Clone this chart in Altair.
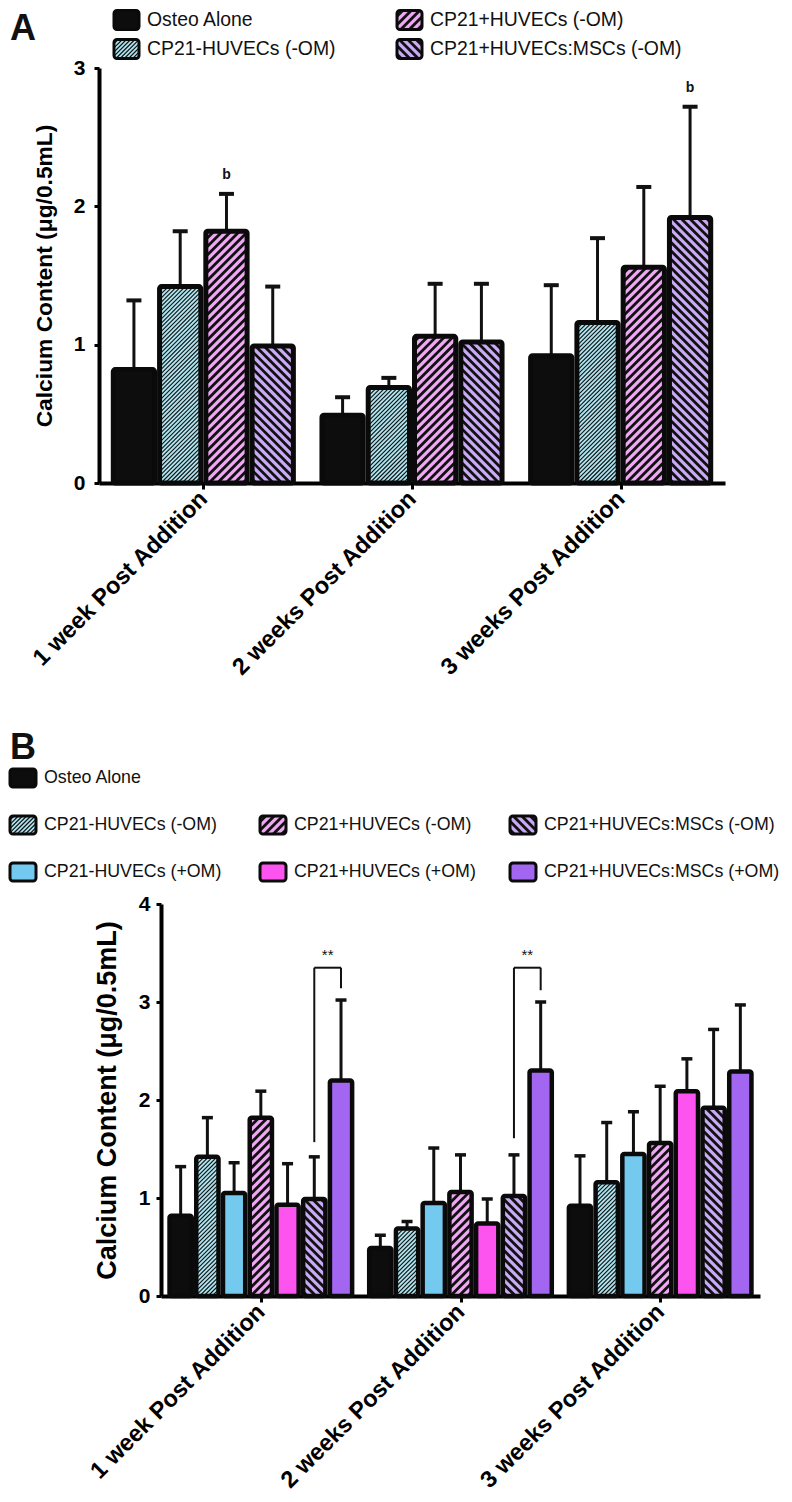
import json
import altair as alt
import pandas as pd

# ---------------- data ----------------
groups = ["1 week Post Addition", "2 weeks Post Addition", "3 weeks Post Addition"]

series_a = ["Osteo Alone", "CP21-HUVECs (-OM)", "CP21+HUVECs (-OM)", "CP21+HUVECs:MSCs (-OM)"]
series_b = ["Osteo Alone", "CP21-HUVECs (-OM)", "CP21-HUVECs (+OM)", "CP21+HUVECs (-OM)",
            "CP21+HUVECs (+OM)", "CP21+HUVECs:MSCs (-OM)", "CP21+HUVECs:MSCs (+OM)"]

osteo_mean = [0.82, 0.49, 0.92]
osteo_sd = [0.50, 0.13, 0.51]
cp21_minus_neg_mean = [1.42, 0.69, 1.16]
cp21_minus_neg_sd = [0.40, 0.07, 0.61]
cp21_plus_neg_mean = [1.82, 1.06, 1.56]
cp21_plus_neg_sd = [0.27, 0.38, 0.58]
msc_neg_mean = [0.99, 1.02, 1.92]
msc_neg_sd = [0.43, 0.42, 0.80]
cp21_minus_pos_mean = [1.05, 0.95, 1.45]
cp21_minus_pos_sd = [0.31, 0.56, 0.43]
cp21_plus_pos_mean = [0.93, 0.74, 2.09]
cp21_plus_pos_sd = [0.42, 0.25, 0.33]
msc_pos_mean = [2.20, 2.30, 2.29]
msc_pos_sd = [0.82, 0.70, 0.68]

# panel A significance letters
notes_a_group = [0, 2]
notes_a_series = ["CP21+HUVECs (-OM)", "CP21+HUVECs:MSCs (-OM)"]
notes_a_text = ["b", "b"]

# panel B brackets
bracket_group = [0, 1]
bracket_left_bottom = [1.57, 1.61]
bracket_top = [3.35, 3.35]
bracket_right_bottom = [3.14, 3.12]
bracket_text = ["**", "**"]
bracket_from = "CP21+HUVECs:MSCs (-OM)"
bracket_to = "CP21+HUVECs:MSCs (+OM)"

values = {
    "Osteo Alone": (osteo_mean, osteo_sd),
    "CP21-HUVECs (-OM)": (cp21_minus_neg_mean, cp21_minus_neg_sd),
    "CP21+HUVECs (-OM)": (cp21_plus_neg_mean, cp21_plus_neg_sd),
    "CP21+HUVECs:MSCs (-OM)": (msc_neg_mean, msc_neg_sd),
    "CP21-HUVECs (+OM)": (cp21_minus_pos_mean, cp21_minus_pos_sd),
    "CP21+HUVECs (+OM)": (cp21_plus_pos_mean, cp21_plus_pos_sd),
    "CP21+HUVECs:MSCs (+OM)": (msc_pos_mean, msc_pos_sd),
}

fill_colors = {
    "Osteo Alone": "#0d0d0d",
    "CP21-HUVECs (-OM)": "#aee4ef",
    "CP21+HUVECs (-OM)": "#efa8f3",
    "CP21+HUVECs:MSCs (-OM)": "#c9aaf4",
    "CP21-HUVECs (+OM)": "#74c9ee",
    "CP21+HUVECs (+OM)": "#fd53ef",
    "CP21+HUVECs:MSCs (+OM)": "#a266f1",
}
ALL_SERIES = series_b
FILL_SCALE = alt.Scale(domain=ALL_SERIES, range=[fill_colors[s] for s in ALL_SERIES])

# period (px), line width (px), mirrored ("\")
hatch_styles = {
    "CP21-HUVECs (-OM)": (4.2, 1.1, False),
    "CP21+HUVECs (-OM)": (8.5, 2.8, False),
    "CP21+HUVECs:MSCs (-OM)": (8.5, 2.8, True),
}

FONT = "Liberation Sans"


def bar_table(series, notes=None):
    rows = []
    for i, s in enumerate(series):
        m, sd = values[s]
        for g, grp in enumerate(groups):
            note = ""
            if notes:
                for ng, ns, nt in zip(*notes):
                    if ng == g and ns == s:
                        note = nt
            rows.append(dict(group=grp, series=s, g=g, i=i, mean=m[g], sd=sd[g], note=note))
    return pd.DataFrame(rows)


def hatch_layers(base, series, FX, FY, SY, enc):
    layers = []
    for s in series:
        if s not in hatch_styles:
            continue
        period, lw, mirror = hatch_styles[s]
        h = base.transform_filter(alt.datum.series == s).transform_calculate(
            W=f"(datum.hx1 - datum.hx0) * {FX}",
            H=f"datum.hh * {FY}",
            k="sequence(0, 120)",
        ).transform_flatten(["k"]).transform_calculate(
            c=f"-datum.W + (datum.k + 0.5) * {period}",
        ).transform_calculate(
            ts="max(0, -datum.c)",
            te="min(datum.W, datum.H - datum.c)",
        ).transform_filter("datum.te - datum.ts > 0.3")
        if mirror:
            h = h.transform_calculate(xa=f"datum.hx1 - datum.ts / {FX}",
                                      xb=f"datum.hx1 - datum.te / {FX}")
        else:
            h = h.transform_calculate(xa=f"datum.hx0 + datum.ts / {FX}",
                                      xb=f"datum.hx0 + datum.te / {FX}")
        h = h.transform_calculate(
            ya=f"datum.hy0 + ({SY}) * (datum.ts + datum.c) / {FY}",
            yb=f"datum.hy0 + ({SY}) * (datum.te + datum.c) / {FY}",
        )
        layers.append(h.mark_rule(strokeWidth=lw, color="#111111", strokeCap="butt")
                      .encode(**enc("xa", "xb", "ya", "yb")))
    return layers


def panel(series, width, left, height, ymax, group_frac, stroke, cap_px, cap_th, err_w,
          label_fs, tick_fs, title_fs, title_pad, label_pad, notes=None, brackets=False):
    n = len(series)
    FX = (width - left) / 3.0
    FY = height / float(ymax)
    bw = group_frac / n
    hg = stroke / 2.0 / FX
    df = bar_table(series, notes)
    xscale = alt.Scale(domain=[0, 3], range=[left, width], nice=False, zero=False)
    yscale = alt.Scale(domain=[0, ymax], nice=False)
    xaxis = alt.Axis(values=[0.5, 1.5, 2.5],
                     labelExpr=f"{json.dumps(groups)}[floor(datum.value)]",
                     labelAngle=-45, labelAlign="right", labelBaseline="middle",
                     labelFontSize=label_fs, labelFontWeight="bold", labelColor="black",
                     labelPadding=6, labelFlush=False, labelOverlap=False, labelLimit=400,
                     tickSize=6, tickWidth=3, tickColor="black",
                     domainWidth=4, domainColor="black", grid=False, title="")
    yaxis = alt.Axis(values=list(range(ymax + 1)), format="d",
                     labelFontSize=tick_fs, labelFontWeight="bold", labelColor="black",
                     labelPadding=label_pad, tickSize=5, tickWidth=3, tickColor="black",
                     domainWidth=4, domainColor="black", grid=False, offset=-left,
                     title="Calcium Content (μg/0.5mL)", titleFontSize=title_fs,
                     titleFontWeight="bold", titleColor="black", titlePadding=title_pad)

    def X(f):
        return alt.X(f"{f}:Q", scale=xscale, axis=xaxis)

    def Y(f):
        return alt.Y(f"{f}:Q", scale=yscale, axis=yaxis)

    base = alt.Chart(df).transform_calculate(
        xc=f"datum.g + 0.5 + (datum.i - {(n - 1) / 2}) * {bw}",
    ).transform_calculate(
        hx0=f"datum.xc - {bw / 2 - hg}",
        hx1=f"datum.xc + {bw / 2 - hg}",
        hy0="0",
        hh="datum.mean",
        top="datum.mean + datum.sd",
        cl=f"datum.xc - {cap_px / 2 / FX}",
        cr=f"datum.xc + {cap_px / 2 / FX}",
    )

    def enc(a, b, c, d):
        return dict(x=X(a), x2=f"{b}:Q", y=Y(c), y2=f"{d}:Q")

    fill = base.mark_rect(cornerRadius=2).encode(
        fill=alt.Fill("series:N", scale=FILL_SCALE, legend=None),
        **enc("hx0", "hx1", "hy0", "mean"))
    layers = [fill]
    layers += hatch_layers(base, series, FX, FY, 1, enc)
    err = base.mark_rule(strokeWidth=err_w, color="#111111").encode(
        x=X("xc"), y=Y("mean"), y2="top:Q")
    outline = base.mark_rect(fillOpacity=0, stroke="#0a0a0a", strokeWidth=stroke,
                             cornerRadius=2, strokeJoin="round").encode(**enc("hx0", "hx1", "hy0", "mean"))
    cap = base.mark_rule(strokeWidth=cap_th, color="#111111").encode(
        x=X("cl"), x2="cr:Q", y=Y("top"))
    layers += [err, outline, cap]

    if notes:
        txt = base.transform_filter("datum.note != ''").transform_calculate(
            ny="datum.top + 0.11").mark_text(
            baseline="alphabetic", fontSize=14, fontWeight="bold", color="#111111").encode(
            x=X("xc"), y=Y("ny"), text="note:N")
        layers.append(txt)

    if brackets:
        il = series.index(bracket_from)
        ir = series.index(bracket_to)
        bdf = pd.DataFrame({"g": bracket_group, "lb": bracket_left_bottom, "tp": bracket_top,
                            "rb": bracket_right_bottom, "txt": bracket_text})
        bb = alt.Chart(bdf).transform_calculate(
            xl=f"datum.g + 0.5 + ({il} - {(n - 1) / 2}) * {bw}",
            xr=f"datum.g + 0.5 + ({ir} - {(n - 1) / 2}) * {bw}",
        ).transform_calculate(
            xm="(datum.xl + datum.xr) / 2",
            ty="datum.tp + 0.08",
        )
        rk = dict(strokeWidth=2, color="#111111")
        left_leg = bb.mark_rule(**rk).encode(x=X("xl"), y=Y("lb"), y2="tp:Q")
        top_bar = bb.mark_rule(**rk).encode(x=X("xl"), x2="xr:Q", y=Y("tp"))
        right_leg = bb.mark_rule(**rk).encode(x=X("xr"), y=Y("rb"), y2="tp:Q")
        stars = bb.mark_text(fontSize=15, baseline="alphabetic", color="#111111").encode(
            x=X("xm"), y=Y("ty"), text="txt:N")
        layers += [left_leg, top_bar, right_leg, stars]

    return alt.layer(*layers).properties(width=width, height=height)


def legend_chart(series, width, height, col_expr, row_expr, x0, colstep, y0, rowstep,
                 sym_w, sym_h, text_dx, fs, letter, letter_y):
    df = pd.DataFrame({"series": series, "i": list(range(len(series)))})
    base = alt.Chart(df).transform_calculate(col=col_expr, row=row_expr).transform_calculate(
        sx=f"{x0} + datum.col * {colstep}", sy=f"{y0} + datum.row * {rowstep}",
    ).transform_calculate(
        hx0="datum.sx", hx1=f"datum.sx + {sym_w}",
        hy0=f"datum.sy + {sym_h / 2}", ytop=f"datum.sy - {sym_h / 2}",
        hh=f"{sym_h}", tx=f"datum.sx + {text_dx}",
    )

    def enc(a, b, c, d):
        return dict(x=alt.X(f"{a}:Q", scale=None, axis=None), x2=f"{b}:Q",
                    y=alt.Y(f"{c}:Q", scale=None, axis=None), y2=f"{d}:Q")

    fill = base.mark_rect(cornerRadius=3).encode(
        fill=alt.Fill("series:N", scale=FILL_SCALE, legend=None),
        **enc("hx0", "hx1", "ytop", "hy0"))
    layers = [fill]
    layers += hatch_layers(base, series, 1, 1, -1, enc)
    outline = base.mark_rect(fillOpacity=0, stroke="#0a0a0a", strokeWidth=3, cornerRadius=3).encode(
        **enc("hx0", "hx1", "ytop", "hy0"))
    text = base.mark_text(align="left", baseline="middle", fontSize=fs, color="#111111").encode(
        x=alt.X("tx:Q", scale=None, axis=None), y=alt.Y("sy:Q", scale=None, axis=None), text="series:N")
    let = alt.Chart(pd.DataFrame({"t": [letter]})).mark_text(
        align="left", baseline="top", fontSize=36, fontWeight="bold", color="#111111").encode(
        text="t:N", x=alt.value(0), y=alt.value(letter_y))
    layers += [outline, text, let]
    return alt.layer(*layers).properties(width=width, height=height)


legend_a = legend_chart(series_a, 760, 60, "floor(datum.i / 2)", "datum.i % 2",
                        104, 283, 12, 29, 25, 19, 33, 19.4, "A", 4)
panel_a = panel(series_a, 715, 89, 415, 3, 0.887, 5, 15, 4, 3,
                23.5, 21, 22.8, 17, 9, notes=(notes_a_group, notes_a_series, notes_a_text))
legend_b = legend_chart(series_b, 760, 421,
                        "datum.i == 0 ? 0 : (datum.i % 2 == 1 ? (datum.i - 1) / 2 : (datum.i - 2) / 2)",
                        "datum.i == 0 ? 0 : (datum.i % 2 == 1 ? 1 : 2)",
                        0, 250, 295, 47, 26, 18, 34, 17.8, "B", 248)
panel_b = panel(series_b, 750, 151, 392, 4, 0.937, 4.5, 11, 3.5, 3,
                23.5, 21, 27, 17, 6, brackets=True)

chart = alt.vconcat(legend_a, panel_a, legend_b, panel_b, spacing=0, bounds="flush", padding=0
                    ).configure(font=FONT).configure_view(strokeWidth=0)

chart.save("out.html", embed_options={"renderer": "svg", "actions": False})
